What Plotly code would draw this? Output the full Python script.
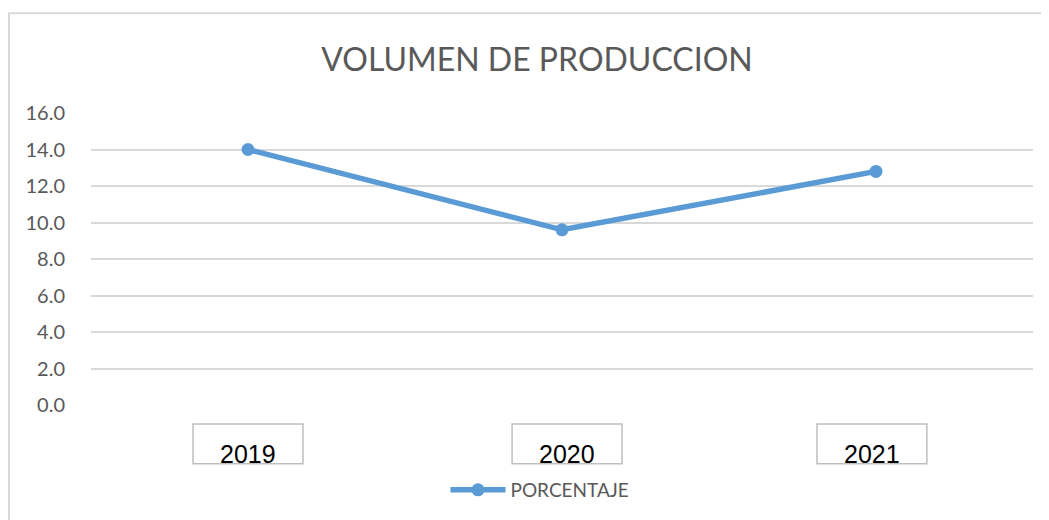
import plotly.graph_objects as go

years = ["2019", "2020", "2021"]
porcentaje = [14.0, 9.6, 12.8]
y_ticks = [0, 2, 4, 6, 8, 10, 12, 14, 16]
y_tick_labels = ["0.0", "2.0", "4.0", "6.0", "8.0", "10.0", "12.0", "14.0", "16.0"]

LINE = "#5b9bd5"
GRID = "#d9d9d9"
TXT = "#595959"
FONT = "Lato, sans-serif"

W, H = 1041, 512  # page body has an 8px margin
L, R, T, B = 83, 16, 105, 114
PW, PH = W - L - R, H - T - B

fig = go.Figure()
fig.add_trace(go.Scatter(
    x=list(range(len(years))), y=porcentaje, name="PORCENTAJE",
    mode="lines+markers",
    line=dict(color=LINE, width=5.5),
    marker=dict(color=LINE, size=13),
))

def px(xs):
    return (xs - 8 - L) / PW

def py(ys):
    return (H - B - (ys - 8)) / PH

shapes = [dict(type="rect", xref="paper", yref="paper",
               x0=px(9), x1=px(1100), y0=py(700), y1=py(13),
               line=dict(color=GRID, width=2), fillcolor="rgba(0,0,0,0)", layer="below")]
annotations = []
box_offsets = [0.0, 0.016, -0.013]
for i, yr in enumerate(years):
    cx = i + box_offsets[i]
    shapes.append(dict(type="rect", xref="x", yref="paper",
                       x0=cx - 0.175, x1=cx + 0.175, y0=py(465), y1=py(425),
                       line=dict(color="#bfbfbf", width=1.5), fillcolor="white"))
    annotations.append(dict(x=cx, y=py(465), xref="x", yref="paper", text=yr,
                            showarrow=False, yanchor="bottom", yshift=-6,
                            font=dict(family="Liberation Sans, Arial, sans-serif", size=25, color="black")))

fig.update_layout(
    width=W, height=H,
    margin=dict(l=L, r=R, t=T, b=B),
    paper_bgcolor="white", plot_bgcolor="white",
    title=dict(text="VOLUMEN DE PRODUCCION", x=(537 - 8) / W, xanchor="center",
               y=1 - (60 - 8) / H, yanchor="middle",
               font=dict(family=FONT, size=32, color=TXT)),
    xaxis=dict(range=[-0.5, 2.5], showticklabels=False, showgrid=False,
               zeroline=False, showline=False, ticks=""),
    yaxis=dict(range=[0, 16], tickvals=y_ticks, ticktext=y_tick_labels,
               showgrid=True, gridcolor=GRID, gridwidth=1.5, zeroline=False,
               showline=False, ticks="outside", ticklen=21, tickcolor="white",
               tickfont=dict(family=FONT, size=20, color=TXT)),
    showlegend=True,
    legend=dict(orientation="h", x=px(540), xanchor="center", y=py(490), yanchor="middle",
                font=dict(family=FONT, size=19, color=TXT), itemwidth=55,
                bgcolor="rgba(0,0,0,0)"),
    shapes=shapes, annotations=annotations,
)

fig.write_html("out.html")
